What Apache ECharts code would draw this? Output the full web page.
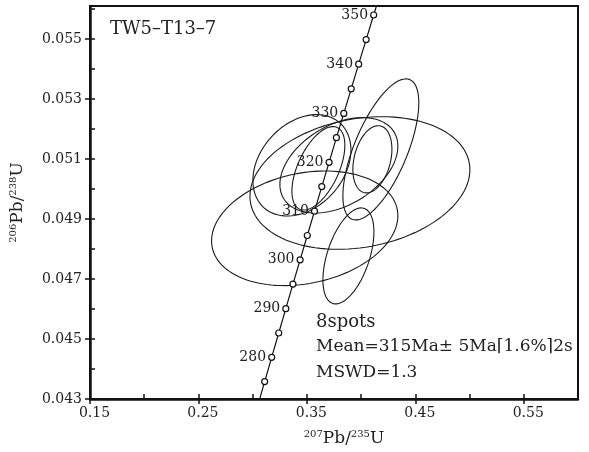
<!DOCTYPE html>
<html>
<head>
<meta charset="utf-8">
<script src="https://cdn.jsdelivr.net/npm/echarts@6/dist/echarts.min.js"></script>
<style>
  html, body { margin: 0; padding: 0; background: #fff; }
  #main { width: 589px; height: 452px; }
</style>
</head>
<body>
<div id="main"></div>
<script>
// concordia ages (Ma) and ratios
var ages = [270, 275, 280, 285, 290, 295, 300, 305, 310, 315, 320, 325, 330, 335, 340, 345, 350, 355];
var concX = [0.30462, 0.31106, 0.31753, 0.32403, 0.33057, 0.33713, 0.34374, 0.35037, 0.35704, 0.36374, 0.37047, 0.37723, 0.38403, 0.39086, 0.39773, 0.40463, 0.41156, 0.41853];
var concY = [0.04277, 0.04358, 0.04439, 0.04520, 0.04601, 0.04683, 0.04764, 0.04845, 0.04926, 0.05008, 0.05089, 0.05171, 0.05252, 0.05334, 0.05416, 0.05498, 0.05580, 0.05661];

// spots: 207/235, 206/238, half widths of the error ellipse, rho
var spotX   = [0.3480, 0.3989, 0.3883, 0.4182, 0.4104, 0.3454, 0.3795, 0.3606];
var spotY   = [0.04869, 0.05020, 0.04777, 0.05132, 0.05099, 0.05079, 0.05079, 0.05069];
var spotSX  = [0.0859, 0.1014, 0.0235, 0.0350, 0.0180, 0.0452, 0.0544, 0.0244];
var spotSY  = [0.00191, 0.00221, 0.00160, 0.00235, 0.00112, 0.00169, 0.00159, 0.00139];
var spotRho = [0.22, 0.20, 0.50, 0.66, 0.30, 0.30, 0.40, 0.55];

var xTicks = [0.15, 0.25, 0.35, 0.45, 0.55];
var xMinor = [0.15, 0.20, 0.25, 0.30, 0.35, 0.40, 0.45, 0.50, 0.55];
var yTicks = [0.043, 0.045, 0.047, 0.049, 0.051, 0.053, 0.055];
var yMinor = [0.043, 0.044, 0.045, 0.046, 0.047, 0.048, 0.049, 0.050, 0.051, 0.052, 0.053, 0.054, 0.055, 0.056];

var serif = 'DejaVu Serif';

var concData = ages.map(function (a, i) {
  var item = { value: [concX[i], concY[i]] };
  if (a < 275 || a > 350) item.symbol = 'none';
  if (a % 10 === 0 && a >= 280 && a <= 350) item.label = { show: true, formatter: String(a) };
  return item;
});

var spotData = spotX.map(function (v, i) {
  return [v, spotY[i], spotSX[i], spotSY[i], spotRho[i]];
});

function ellipse(params, api) {
  var cx = api.value(0), cy = api.value(1), sx = api.value(2), sy = api.value(3), r = api.value(4);
  var pts = [];
  for (var k = 0; k < 120; k++) {
    var t = k / 120 * Math.PI * 2;
    var dx = sx * Math.cos(t);
    var dy = sy * (r * Math.cos(t) + Math.sqrt(1 - r * r) * Math.sin(t));
    pts.push(api.coord([cx + dx, cy + dy]));
  }
  return {
    type: 'polygon',
    shape: { points: pts },
    style: { fill: 'none', stroke: '#1a1a1a', lineWidth: 1.1 }
  };
}

var xMin = 0.15, xMax = 0.6, yMin = 0.043, yMax = 0.0561;

var chart = echarts.init(document.getElementById('main'));
chart.setOption({
  animation: false,
  grid: { left: 90, right: 11, top: 6, bottom: 49, show: true, borderColor: '#111', borderWidth: 2 },
  xAxis: [{
    type: 'value', min: xMin, max: xMax, interval: 0.05,
    axisLine: { show: true, onZero: false, lineStyle: { color: '#111', width: 2.5 } },
    axisTick: { show: true, inside: false, length: 5, customValues: xTicks, lineStyle: { color: '#111', width: 1.5 } },
    axisLabel: { customValues: xTicks, formatter: function (v) { return v.toFixed(2); },
      fontFamily: serif, fontSize: 14, color: '#222', margin: 7, padding: [0, 0, 0, 9] },
    splitLine: { show: false },
    name: '{s|207}{b|Pb/}{s|235}{b|U}', nameLocation: 'middle', nameGap: 30,
    nameTextStyle: { padding: [0, 0, 0, 20], rich: {
      b: { fontFamily: serif, fontSize: 17, color: '#222', lineHeight: 18, verticalAlign: 'bottom' },
      s: { fontFamily: serif, fontSize: 10, color: '#222', lineHeight: 18, verticalAlign: 'top', padding: [0, 0, 6, 0] } } }
  }, {
    type: 'value', min: xMin, max: xMax, interval: 0.05, position: 'bottom',
    axisLine: { show: false },
    axisTick: { show: true, inside: true, length: 5, customValues: xMinor, lineStyle: { color: '#111', width: 1.5 } },
    axisLabel: { show: false }, splitLine: { show: false }
  }],
  yAxis: [{
    type: 'value', min: yMin, max: yMax, interval: 0.001,
    axisLine: { show: true, onZero: false, lineStyle: { color: '#111', width: 2.5 } },
    axisTick: { show: true, inside: false, length: 5, customValues: yTicks, lineStyle: { color: '#111', width: 1.5 } },
    axisLabel: { customValues: yTicks, formatter: function (v) { return v.toFixed(3); },
      fontFamily: serif, fontSize: 14, color: '#222', margin: 8 },
    splitLine: { show: false },
    name: '{s|206}{b|Pb/}{s|238}{b|U}', nameLocation: 'middle', nameGap: 64, nameRotate: 90,
    nameTextStyle: { rich: {
      b: { fontFamily: serif, fontSize: 17, color: '#222', lineHeight: 18, verticalAlign: 'bottom' },
      s: { fontFamily: serif, fontSize: 10, color: '#222', lineHeight: 18, verticalAlign: 'top', padding: [0, 0, 6, 0] } } }
  }, {
    type: 'value', min: yMin, max: yMax, interval: 0.001, position: 'left',
    axisLine: { show: false },
    axisTick: { show: true, inside: true, length: 5, customValues: yMinor, lineStyle: { color: '#111', width: 1.5 } },
    axisLabel: { show: false }, splitLine: { show: false }
  }],
  series: [{
    type: 'custom',
    renderItem: ellipse,
    data: spotData,
    clip: true,
    silent: true,
    z: 2
  }, {
    type: 'line',
    data: concData,
    clip: true,
    symbol: 'circle',
    symbolSize: 6,
    showAllSymbol: true,
    lineStyle: { color: '#111', width: 1.2 },
    itemStyle: { color: '#fff', borderColor: '#111', borderWidth: 1.2 },
    label: { show: false, position: 'left', distance: 2, fontFamily: serif, fontSize: 14, color: '#222' },
    z: 3
  }],
  graphic: [
    { type: 'text', left: 110, top: 20, style: { text: 'TW5–T13–7', fontFamily: serif, fontSize: 18, fill: '#222' } },
    { type: 'text', left: 316, top: 313, style: { text: '8spots', fontFamily: serif, fontSize: 18, fill: '#222' } },
    { type: 'text', left: 316, top: 338, style: { text: 'Mean=315Ma± 5Ma⌈1.6%⌉2s', fontFamily: serif, fontSize: 17, fill: '#222' } },
    { type: 'text', left: 316, top: 364, style: { text: 'MSWD=1.3', fontFamily: serif, fontSize: 17, fill: '#222' } }
  ]
});
</script>
</body>
</html>
